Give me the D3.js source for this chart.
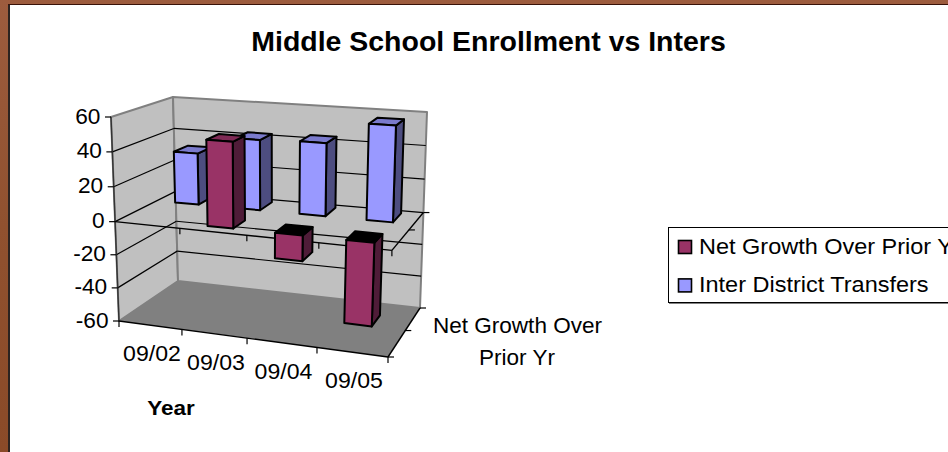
<!DOCTYPE html>
<html><head><meta charset="utf-8">
<script src="https://cdn.jsdelivr.net/npm/d3@7/dist/d3.min.js"></script>
<style>html,body{margin:0;padding:0;background:#fff;overflow:hidden}svg{display:block}text{font-family:"Liberation Sans",Arial,sans-serif;fill:#000}</style>
</head><body><svg id="c" width="948" height="452"></svg>
<script>
const title = "Middle School Enrollment vs Inters";
const categories = ["09/02","09/03","09/04","09/05"];
const seriesNames = ["Net Growth Over Prior Yr","Inter District Transfers"];
const netGrowth = [null,49,-15,-48];
const transfers = [31,42,43,56];
const valueTicks = [60,40,20,0,-20,-40,-60];
const colors = {
  front:["#993366","#9999ff"],
  side:["#4f1c38","#4d4d80"],
  top:["#7f2a55","#7a7acc"]
};

const svg = d3.select("#c");
const defs = svg.append("defs");
const gr = defs.append("linearGradient").attr("id","bg").attr("x1",0).attr("y1",0).attr("x2",0).attr("y2",1);
gr.append("stop").attr("offset",0).attr("stop-color","#9d5c3e");
gr.append("stop").attr("offset",.5).attr("stop-color","#90512f");
gr.append("stop").attr("offset",1).attr("stop-color","#8a4a28");
svg.append("rect").attr("width",948).attr("height",452).attr("fill","url(#bg)");
svg.append("rect").attr("x",10).attr("y",5).attr("width",938).attr("height",447).attr("fill","#fff");
svg.append("line").attr("x1",9).attr("x2",9).attr("y1",4).attr("y2",452).attr("stroke","#2b2320").attr("stroke-width",2);
svg.append("line").attr("x1",8).attr("x2",948).attr("y1",4.5).attr("y2",4.5).attr("stroke","#3a1208").attr("stroke-width",1);

const corner = {
  fl:{lo:[119,321],hi:[111,117]},
  fr:{lo:[388,357],hi:[396,138]},
  bl:{lo:[178,281],hi:[173,97]},
  br:{lo:[420,308],hi:[427,112]}
};
const uScale = d3.scaleLinear().domain([0,1,2,3,4]).range([0,.234,.476,.736,1]);
const vScale = d3.scaleLinear().domain([0,.28,.72,1,1.28,1.72,2]).range([0,.14,.38,.54,.69,.93,1]);
const wScale = d3.scaleLinear().domain([-60,0,60]).range([0,.487,1]);
const lerp = (a,b,t)=>a+(b-a)*t;
const project = (cat,row,val)=>{
  const u=uScale(cat),v=vScale(row),w=wScale(val);
  return [0,1].map(i=>{
    const f=lerp(lerp(corner.fl.lo[i],corner.fr.lo[i],u),lerp(corner.bl.lo[i],corner.br.lo[i],u),v);
    const h=lerp(lerp(corner.fl.hi[i],corner.fr.hi[i],u),lerp(corner.bl.hi[i],corner.br.hi[i],u),v);
    return lerp(f,h,w);
  });
};
const line = d3.line();
const g = svg.append("g");
const poly=(pts,fill,stroke,sw)=>g.append("path").attr("d",line(pts)+"Z").attr("fill",fill).attr("stroke",stroke||"none").attr("stroke-width",sw||0).attr("stroke-linejoin","round");
const seg=(a,b,stroke,sw)=>g.append("path").attr("d",line([a,b])).attr("fill","none").attr("stroke",stroke||"#000").attr("stroke-width",sw||1.2);
// text drawn with the reference's slight horizontal stretch
const label=(parent,x,y,str,size,anchor,k,bold)=>{
  const t=parent.append("text").attr("x",x).attr("y",y).attr("text-anchor",anchor).attr("font-size",size).text(str);
  if(bold) t.attr("font-weight","bold");
  const w=t.node().getComputedTextLength();
  t.attr("textLength",w*k).attr("lengthAdjust","spacingAndGlyphs");
  return t;
};

const N=categories.length, R=seriesNames.length, vmin=-60, vmax=60;
poly([project(0,0,vmin),project(0,R,vmin),project(0,R,vmax),project(0,0,vmax)],"#c0c0c0","#808080",2);
poly([project(0,R,vmin),project(N,R,vmin),project(N,R,vmax),project(0,R,vmax)],"#c0c0c0","#808080",2);
poly([project(0,0,vmin),project(N,0,vmin),project(N,R,vmin),project(0,R,vmin)],"#808080");
valueTicks.filter(t=>t>vmin&&t<vmax).forEach(t=>{
  seg(project(0,0,t),project(0,R,t));
  seg(project(0,R,t),project(N,R,t));
});
seg(project(0,0,vmin),project(0,0,vmax),"#333",1.4);
valueTicks.forEach(t=>{
  const p=project(0,0,t);
  seg([p[0]-6,p[1]],p,"#000",1.2);
  label(g,p[0]-10.5,p[1]+6.5,t,22,"end",1.03);
});
seg(project(0,0,vmin),project(N,0,vmin),"#000",1.4);
seg(project(N,0,vmin),project(N,R,vmin),"#000",1.4);
d3.range(N+1).forEach(i=>{const p=project(i,0,vmin);seg(p,[p[0],p[1]+6]);});
d3.range(R+1).forEach(i=>{const p=project(N,i,vmin);seg(p,[p[0]+6,p[1]]);});
seg(project(0,0,0),project(N,0,0),"#000",1.4);
seg(project(N,0,0),project(N,R,0),"#000",1.4);
d3.range(1,N+1).forEach(i=>{const p=project(i,0,0);seg(p,[p[0],p[1]+6]);});
d3.range(1,R+1).forEach(i=>{const p=project(N,i,0);seg(p,[p[0]+6,p[1]]);});
categories.forEach((c,i)=>{
  const p=project(i+.5,0,vmin);
  label(g,p[0]+1.5,p[1]+36,c,22,"middle",1.05);
});
const barW=.39, depth=.44;
const drawBar=(cat,row,val)=>{
  if(val==null) return;
  const x0=cat+.5-barW/2,x1=cat+.5+barW/2,z0=row+.5-depth/2,z1=row+.5+depth/2;
  const hiV=Math.max(val,0),loV=Math.min(val,0);
  const sw=2;
  poly([project(x1,z0,loV),project(x1,z1,loV),project(x1,z1,hiV),project(x1,z0,hiV)],colors.side[row],"#000",sw);
  poly([project(x0,z0,hiV),project(x1,z0,hiV),project(x1,z1,hiV),project(x0,z1,hiV)],val<0?"#000":colors.top[row],"#000",sw);
  poly([project(x0,z0,loV),project(x1,z0,loV),project(x1,z0,hiV),project(x0,z0,hiV)],colors.front[row],"#000",sw);
};
transfers.forEach((v,i)=>drawBar(i,1,v));
netGrowth.forEach((v,i)=>drawBar(i,0,v));
label(svg,488.5,50.5,title,27.5,"middle",1.035,true);
label(svg,171,415,"Year",21,"middle",1.07,true);
label(svg,517.5,333,"Net Growth Over",22,"middle",1.024);
label(svg,517,365,"Prior Yr",22,"middle",1.024);
const lg=svg.append("g");
lg.append("rect").attr("x",669).attr("y",229).attr("width",290).attr("height",75).attr("fill","#808080");
lg.append("rect").attr("x",668.5).attr("y",227.5).attr("width",290).attr("height",75).attr("fill","#fff").attr("stroke","#000").attr("stroke-width",1);
seriesNames.forEach((n,i)=>{
  const y=240+i*38.4;
  lg.append("rect").attr("x",678.5).attr("y",y+.5).attr("width",13).attr("height",13).attr("fill",colors.front[i]).attr("stroke","#000").attr("stroke-width",1.6);
  label(lg,699,y+13.5,n,22,"start",1.067);
});
</script></body></html>
